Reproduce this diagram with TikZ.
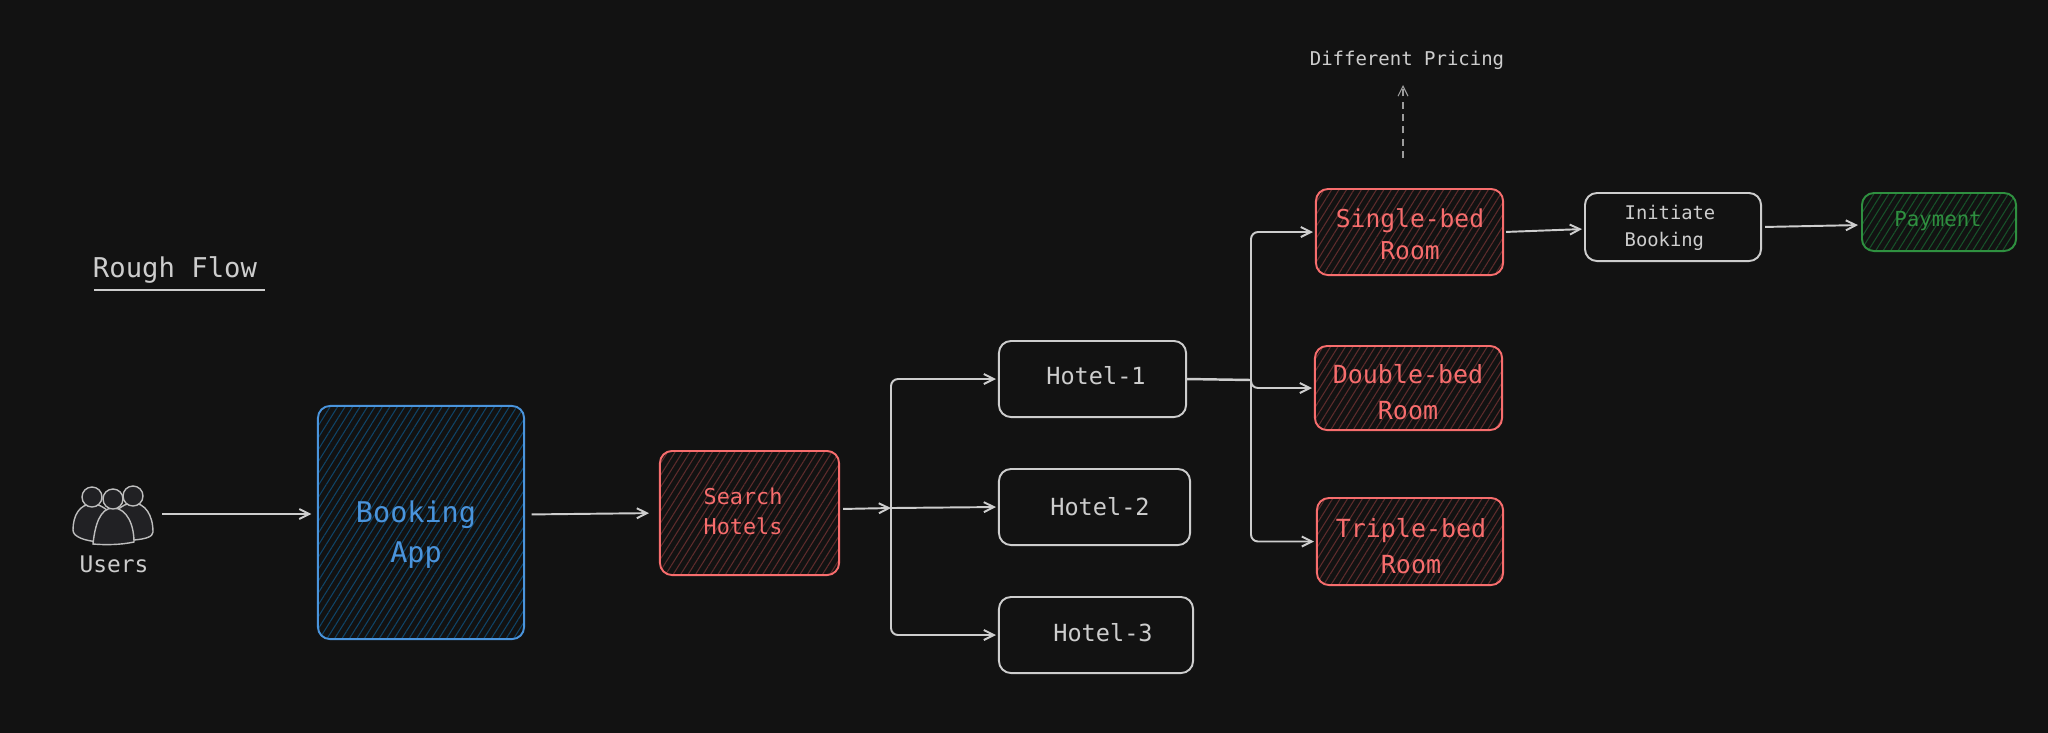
\documentclass[tikz,border=0pt]{standalone}
\usepackage{fontspec}
\setmainfont{DejaVu Sans Mono}
\usepackage{xcolor}
\usetikzlibrary{arrows.meta,patterns.meta}
\definecolor{pagedark}{HTML}{121212}
\definecolor{linegray}{HTML}{CDCDCD}
\definecolor{dashgray}{HTML}{9C9C9C}
\definecolor{icongray}{HTML}{BDBDBD}
\definecolor{iconfill}{HTML}{212124}
\definecolor{appblue}{HTML}{4A94DC}
\definecolor{hatchblue}{HTML}{0F4468}
\definecolor{roomred}{HTML}{F76D6D}
\definecolor{hatchred}{HTML}{5E2C2C}
\definecolor{paygreen}{HTML}{2F9040}
\definecolor{hatchgreen}{HTML}{17522A}
\tikzset{
  flow/.style={-{Straight Barb[length=.1cm,width=.1cm]},linegray,line width=.55pt,rounded corners=.07cm},
  plainbox/.style={draw=linegray,line width=.55pt,rounded corners=.12cm,inner sep=0pt},
  hatchbox/.style={plainbox,pattern={Lines[angle=58,distance=1.8pt,line width=.3pt]}},
  appbox/.style={hatchbox,draw=appblue,pattern color=hatchblue},
  redbox/.style={hatchbox,draw=roomred,pattern color=hatchred},
  greenbox/.style={hatchbox,draw=paygreen,pattern color=hatchgreen},
  person/.style={draw=icongray,line width=.4pt,fill=iconfill},
  boxtext/.style={align=center,text=linegray,inner sep=0pt}
}

\begin{document}
\begin{tikzpicture}[x=.01cm,y=-.01cm]
  \useasboundingbox (0,0) rectangle (2048,732);
  \fill[pagedark] (-20,-20) rectangle (2068,752);

  % title
  \node[boxtext,font=\fontsize{7.75}{10}\selectfont] (roughflow) at (175,270) {Rough Flow};
  \draw[linegray,line width=.45pt] (94,290) -- (265,290);

  % users icon
  \draw[person] (100,542) .. controls (85,541) and (73,537) .. (73,530)
    .. controls (73,515) and (80,504) .. (92,504) .. controls (104,504) and (115,515) .. (118,530) -- cycle;
  \draw[person] (134,540) .. controls (145,539) and (153,537) .. (153,532)
    .. controls (153,515) and (145,503) .. (133,503) .. controls (121,503) and (110,515) .. (108,530) -- cycle;
  \draw[person] (92,497) circle (.1cm);
  \draw[person] (133,496) circle (.1cm);
  \draw[person] (93,544) .. controls (95,525) and (100,508) .. (113,508)
    .. controls (127,508) and (134,525) .. (134,542) .. controls (120,545) and (105,545) .. (93,544) -- cycle;
  \draw[person] (113,499) circle (.1cm);
  \node[boxtext,font=\fontsize{6.5}{8}\selectfont] (users) at (114,564) {Users};
  \coordinate (usersout) at (162,514);

  % boxes
  \node[appbox,minimum width=2.06cm,minimum height=2.33cm] (booking) at (421,522.5) {};
  \node[redbox,minimum width=1.79cm,minimum height=1.24cm] (search) at (749.5,513) {};
  \node[plainbox,minimum width=1.87cm,minimum height=.76cm] (hotelone) at (1092.5,379) {};
  \node[plainbox,minimum width=1.91cm,minimum height=.76cm] (hoteltwo) at (1094.5,507) {};
  \node[plainbox,minimum width=1.94cm,minimum height=.76cm] (hotelthree) at (1096,635) {};
  \node[redbox,minimum width=1.87cm,minimum height=.86cm] (single) at (1409.5,232) {};
  \node[redbox,minimum width=1.87cm,minimum height=.84cm] (double) at (1408.5,388) {};
  \node[redbox,minimum width=1.86cm,minimum height=.87cm] (triple) at (1410,541.5) {};
  \node[plainbox,minimum width=1.76cm,minimum height=.68cm] (initiate) at (1673,227) {};
  \node[greenbox,minimum width=1.54cm,minimum height=.58cm] (payment) at (1939,222) {};

  % box texts
  \node[boxtext,text=appblue,font=\fontsize{8.1}{11.4}\selectfont] (bookingtext) at (416,535) {Booking\\App};
  \node[boxtext,text=roomred,font=\fontsize{6.2}{8.5}\selectfont] (searchtext) at (743,511) {Search\\Hotels};
  \node[boxtext,font=\fontsize{6.7}{8}\selectfont] (hotelonetext) at (1096,376) {Hotel-1};
  \node[boxtext,font=\fontsize{6.7}{8}\selectfont] (hoteltwotext) at (1100,507) {Hotel-2};
  \node[boxtext,font=\fontsize{6.7}{8}\selectfont] (hotelthreetext) at (1103,633) {Hotel-3};
  \node[boxtext,text=roomred,font=\fontsize{7}{9.1}\selectfont] (singletext) at (1410,234) {Single-bed\\Room};
  \node[boxtext,text=roomred,font=\fontsize{7.1}{10.2}\selectfont] (doubletext) at (1408,392) {Double-bed\\Room};
  \node[boxtext,text=roomred,font=\fontsize{7.1}{10.2}\selectfont] (tripletext) at (1411,546) {Triple-bed\\Room};
  \node[boxtext,align=left,font=\fontsize{5.35}{7.7}\selectfont] (initiatetext) at (1670,228) {Initiate\\Booking};
  \node[boxtext,text=paygreen,font=\fontsize{5.9}{7}\selectfont] (paymenttext) at (1938,221) {Payment};
  \node[boxtext,font=\fontsize{5.4}{7}\selectfont] (pricing) at (1407,60) {Different Pricing};

  % junctions
  \coordinate (hotelbus) at (891,508);
  \coordinate (roombus) at (1251,380);
  \coordinate (pricingfrom) at (1403,158);
  \coordinate (pricingto) at (1403,85);

  % connectors
  \draw[flow,shorten >=.06cm] (usersout) -- (usersout -| booking.west);
  \draw[flow,shorten <=.07cm,shorten >=.1cm] ([yshift=.08cm]booking.east) -- (search.west);
  \draw[flow,shorten <=.03cm] ([yshift=.04cm]search.east) -- (hotelbus);
  \draw[flow,shorten >=.02cm] (hotelbus) |- (hotelone.west);
  \draw[flow,shorten >=.02cm] (hotelbus) -- (hoteltwo.west);
  \draw[flow,shorten >=.02cm] (hotelbus) |- (hotelthree.west);
  \draw[linegray,line width=.7pt] (hotelone.east) -- (roombus);
  \draw[flow,shorten >=.02cm] (roombus) |- (single.west);
  \draw[flow,shorten >=.02cm] (roombus) |- (double.west);
  \draw[flow,shorten >=.02cm] (roombus) |- (triple.west);
  \draw[flow,shorten <=.02cm,shorten >=.02cm] (single.east) -- ([yshift=-.02cm]initiate.west);
  \draw[flow,shorten <=.03cm,shorten >=.03cm] (initiate.east) -- ([yshift=-.03cm]payment.west);
  \draw[flow,dashgray,line width=.3pt,dash pattern=on 2pt off 1.5pt] (pricingfrom) -- (pricingto);
\end{tikzpicture}
\end{document}
